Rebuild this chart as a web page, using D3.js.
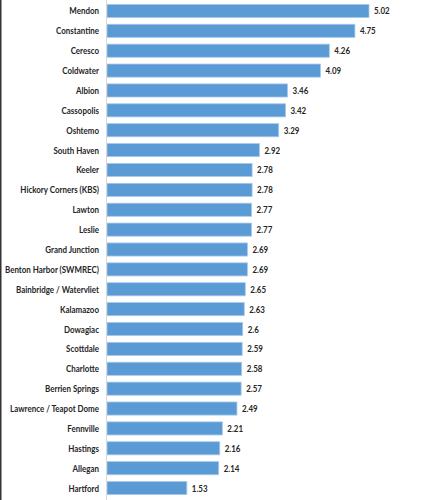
<!DOCTYPE html>
<html>
<head>
<meta charset="utf-8">
<script src="https://cdn.jsdelivr.net/npm/d3@7"></script>
<style>
  body { margin: 0; background: #fff; }
  text { font-family: Lato, "Open Sans", sans-serif; font-weight: bold; fill: #262626; }
</style>
</head>
<body>
<svg id="chart"></svg>
<script>
var sites = ['Mendon', 'Constantine', 'Ceresco', 'Coldwater', 'Albion', 'Cassopolis', 'Oshtemo',
  'South Haven', 'Keeler', 'Hickory Corners (KBS)', 'Lawton', 'Leslie', 'Grand Junction',
  'Benton Harbor (SWMREC)', 'Bainbridge / Watervliet', 'Kalamazoo', 'Dowagiac', 'Scottdale',
  'Charlotte', 'Berrien Springs', 'Lawrence / Teapot Dome', 'Fennville', 'Hastings', 'Allegan', 'Hartford'];
var values = [5.02, 4.75, 4.26, 4.09, 3.46, 3.42, 3.29, 2.92, 2.78, 2.78, 2.77, 2.77, 2.69,
  2.69, 2.65, 2.63, 2.6, 2.59, 2.58, 2.57, 2.49, 2.21, 2.16, 2.14, 1.53];

var data = sites.map(function(s, i) { return { site: s, value: values[i] }; });

var width = 421, height = 500;
var x0 = 107;

var svg = d3.select('#chart')
    .attr('width', width)
    .attr('height', height);

var x = d3.scaleLinear().domain([0, 5.02]).range([x0, 369]);
var y = d3.scaleBand().domain(sites).range([1, 498]).paddingInner(0.34).paddingOuter(0.17);

// left frame edge
svg.append('line')
    .attr('x1', 0.75).attr('x2', 0.75)
    .attr('y1', 0).attr('y2', height)
    .attr('stroke', '#333').attr('stroke-width', 1.5);

// bars
svg.selectAll('.bar')
    .data(data)
  .enter().append('rect')
    .attr('class', 'bar')
    .attr('x', x(0))
    .attr('y', function(d) { return y(d.site); })
    .attr('width', function(d) { return x(d.value) - x(0); })
    .attr('height', y.bandwidth())
    .attr('fill', '#5b9bd5')
    .attr('stroke', '#a9c9ea')
    .attr('stroke-width', 0.8);

// category axis line
svg.append('line')
    .attr('x1', x0 - 0.5).attr('x2', x0 - 0.5)
    .attr('y1', 0).attr('y2', height)
    .attr('stroke', '#d9d9d9').attr('stroke-width', 1);

// category labels
var cats = svg.selectAll('.cat')
    .data(data)
  .enter().append('text')
    .attr('class', 'cat')
    .attr('x', 99)
    .attr('y', function(d) { return y(d.site) + y.bandwidth() / 2; })
    .attr('dy', '0.35em')
    .attr('text-anchor', 'end')
    .attr('font-size', 10)
    .text(function(d) { return d.site; });

// value labels
var vals = svg.selectAll('.val')
    .data(data)
  .enter().append('text')
    .attr('class', 'val')
    .attr('x', function(d) { return x(d.value) + 5; })
    .attr('y', function(d) { return y(d.site) + y.bandwidth() / 2; })
    .attr('dy', '0.35em')
    .attr('font-size', 10)
    .text(function(d) { return d.value; });

// squeeze glyphs a bit so the text is as narrow as the original's Calibri
var widest = d3.max(cats.nodes(), function(n) { return n.getComputedTextLength(); });
var squeeze = Math.min(1, 94 / widest);
svg.selectAll('.cat, .val').each(function() {
  var len = this.getComputedTextLength();
  d3.select(this).attr('textLength', len * squeeze).attr('lengthAdjust', 'spacingAndGlyphs');
});
</script>
</body>
</html>
